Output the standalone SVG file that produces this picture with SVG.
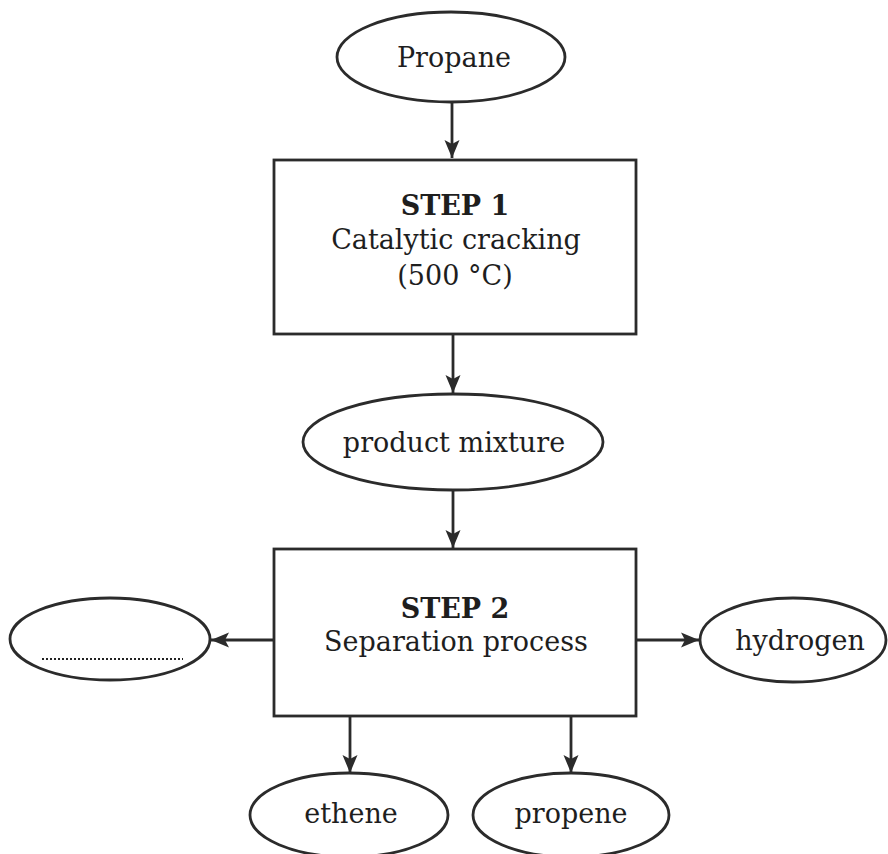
<svg xmlns="http://www.w3.org/2000/svg" width="888" height="854" viewBox="0 0 888 854">
  <style>
    .shape { fill: #ffffff; stroke: #2b2b2b; stroke-width: 2.8; }
    .link { fill: none; stroke: #2b2b2b; stroke-width: 2.8; }
    .label { font-family: "DejaVu Serif", "Liberation Serif", serif; font-size: 27px; fill: #1e1e1e; text-anchor: middle; }
    .title { font-weight: bold; }
    .blank { fill: none; stroke: #222222; stroke-width: 2; stroke-dasharray: 2 2; }
  </style>
  <defs>
    <marker id="arrow" markerUnits="userSpaceOnUse" markerWidth="22" markerHeight="18" viewBox="-20 -9 22 18" refX="0" refY="0" orient="auto">
      <path d="M0,0 L-18,-7.5 L-14,0 L-18,7.5 Z" fill="#2b2b2b"/>
    </marker>
  </defs>

  <rect width="888" height="854" fill="#ffffff"/>

  <!-- connectors -->
  <g id="connectors">
    <line class="link" x1="452" y1="102" x2="452" y2="158" marker-end="url(#arrow)"/>
    <line class="link" x1="453" y1="334" x2="453" y2="393" marker-end="url(#arrow)"/>
    <line class="link" x1="453" y1="490" x2="453" y2="548" marker-end="url(#arrow)"/>
    <line class="link" x1="274" y1="640" x2="211" y2="640" marker-end="url(#arrow)"/>
    <line class="link" x1="636" y1="640" x2="699" y2="640" marker-end="url(#arrow)"/>
    <line class="link" x1="350" y1="716" x2="350" y2="773" marker-end="url(#arrow)"/>
    <line class="link" x1="571" y1="716" x2="571" y2="773" marker-end="url(#arrow)"/>
  </g>

  <!-- feed -->
  <g id="propane">
    <ellipse class="shape" cx="451" cy="57" rx="114" ry="45"/>
    <text class="label" x="454" y="67">Propane</text>
  </g>

  <!-- step 1 -->
  <g id="step1">
    <rect class="shape" x="274" y="160" width="362" height="174"/>
    <text class="label title" x="455" y="215">STEP 1</text>
    <text class="label" x="456" y="249">Catalytic cracking</text>
    <text class="label" x="455" y="285">(500 °C)</text>
  </g>

  <g id="product-mixture">
    <ellipse class="shape" cx="453" cy="442" rx="150" ry="48"/>
    <text class="label" x="454" y="452">product mixture</text>
  </g>

  <!-- step 2 -->
  <g id="step2">
    <rect class="shape" x="274" y="549" width="362" height="167"/>
    <text class="label title" x="455" y="618">STEP 2</text>
    <text class="label" x="456" y="651">Separation process</text>
  </g>

  <!-- outputs -->
  <g id="unknown-product">
    <ellipse class="shape" cx="110" cy="639" rx="100" ry="41"/>
    <line class="blank" x1="42" y1="659" x2="183" y2="659"/>
  </g>

  <g id="hydrogen">
    <ellipse class="shape" cx="793" cy="640" rx="93" ry="42"/>
    <text class="label" x="800" y="650">hydrogen</text>
  </g>

  <g id="ethene">
    <ellipse class="shape" cx="349" cy="815" rx="99" ry="42"/>
    <text class="label" x="351" y="823">ethene</text>
  </g>

  <g id="propene">
    <ellipse class="shape" cx="571" cy="815" rx="98" ry="42"/>
    <text class="label" x="571" y="823">propene</text>
  </g>
</svg>
